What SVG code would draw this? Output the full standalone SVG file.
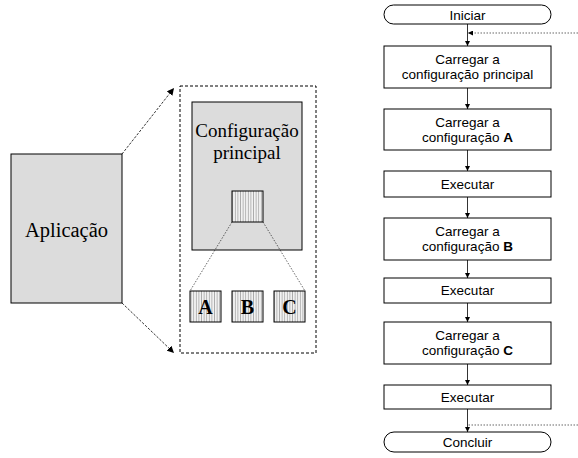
<svg xmlns="http://www.w3.org/2000/svg" width="578" height="458" viewBox="0 0 578 458">
<style>
.gray{fill:#dcdcdc;stroke:#000;stroke-width:1}
.hatch{fill:url(#vh);stroke:#000;stroke-width:1}
.serif{font-family:"Liberation Serif","Times New Roman",serif;fill:#000}
.sans{font-family:"Liberation Sans",Arial,sans-serif;font-size:13.5px;fill:#000;text-anchor:middle}
.box{fill:#fff;stroke:#000;stroke-width:1}
.flow{stroke:#000;stroke-width:0.8;fill:none}
.frame{stroke:#000;stroke-width:1;fill:none;stroke-dasharray:3,2}
.dash{stroke:#000;stroke-width:0.8;fill:none;stroke-dasharray:2.5,1.5}
.dot{stroke:#000;stroke-width:0.6;fill:none;stroke-dasharray:1.5,1.5}
</style>
<defs>
<pattern id="vh" width="2.6" height="4" patternUnits="userSpaceOnUse">
<rect width="2.6" height="4" fill="#f2f2f2"/>
<line x1="1.3" y1="0" x2="1.3" y2="4" stroke="#a0a0a0" stroke-width="0.8"/>
</pattern>
<marker id="big" viewBox="0 0 10 10" refX="10" refY="5" markerWidth="7" markerHeight="7" orient="auto" markerUnits="userSpaceOnUse">
<path d="M0,0 L10,5 L0,10 z" fill="#000"/>
</marker>
<marker id="sm" viewBox="0 0 10 10" refX="10" refY="5" markerWidth="5" markerHeight="5" orient="auto" markerUnits="userSpaceOnUse">
<path d="M0,0 L10,5 L0,10 z" fill="#000"/>
</marker>
</defs>

<g id="aplicacao">
<rect class="gray" x="11" y="154" width="111" height="149"/>
<text class="serif" x="66.5" y="237" font-size="20.5" text-anchor="middle">Aplicação</text>
</g>

<g id="zoom-frame">
<rect class="frame" x="180" y="86" width="136" height="267"/>
</g>

<g id="config-principal">
<rect class="gray" x="192" y="102" width="110" height="148"/>
<text class="serif" x="247" y="137" font-size="19" text-anchor="middle">Configuração</text>
<text class="serif" x="247" y="159" font-size="19" text-anchor="middle">principal</text>
</g>

<g id="slot">
<rect class="hatch" x="232" y="191" width="31" height="31"/>
</g>

<g id="cfgA">
<rect class="hatch" x="190" y="291" width="31" height="31"/>
<text class="serif" x="205.5" y="314" font-size="20" font-weight="bold" text-anchor="middle">A</text>
</g>
<g id="cfgB">
<rect class="hatch" x="232" y="291" width="31" height="31"/>
<text class="serif" x="247.5" y="314" font-size="20" font-weight="bold" text-anchor="middle">B</text>
</g>
<g id="cfgC">
<rect class="hatch" x="274" y="291" width="31" height="31"/>
<text class="serif" x="289.5" y="314" font-size="20" font-weight="bold" text-anchor="middle">C</text>
</g>

<g id="iniciar">
<rect class="box" x="384" y="5" width="167" height="19" rx="9.5" ry="9.5"/>
<text class="sans" x="467.5" y="19.5">Iniciar</text>
</g>
<g id="carregar-principal">
<rect class="box" x="384" y="46" width="167" height="42"/>
<text class="sans" x="467.5" y="64">Carregar a</text>
<text class="sans" x="467.5" y="79">configuração principal</text>
</g>
<g id="carregar-A">
<rect class="box" x="384" y="109" width="167" height="41"/>
<text class="sans" x="467.5" y="127">Carregar a</text>
<text class="sans" x="467.5" y="142">configuração <tspan font-weight="bold">A</tspan></text>
</g>
<g id="executar-1">
<rect class="box" x="384" y="171" width="167" height="26"/>
<text class="sans" x="467.5" y="188.5">Executar</text>
</g>
<g id="carregar-B">
<rect class="box" x="384" y="218" width="167" height="42"/>
<text class="sans" x="467.5" y="236">Carregar a</text>
<text class="sans" x="467.5" y="251">configuração <tspan font-weight="bold">B</tspan></text>
</g>
<g id="executar-2">
<rect class="box" x="384" y="278" width="167" height="25"/>
<text class="sans" x="467.5" y="295">Executar</text>
</g>
<g id="carregar-C">
<rect class="box" x="384" y="322" width="167" height="42"/>
<text class="sans" x="467.5" y="340">Carregar a</text>
<text class="sans" x="467.5" y="355">configuração <tspan font-weight="bold">C</tspan></text>
</g>
<g id="executar-3">
<rect class="box" x="384" y="385" width="167" height="24"/>
<text class="sans" x="467.5" y="401.5">Executar</text>
</g>
<g id="concluir">
<rect class="box" x="384" y="432" width="167" height="20" rx="10" ry="10"/>
<text class="sans" x="467.5" y="447">Concluir</text>
</g>

<g id="connectors">
<line class="dash" x1="122" y1="154" x2="174" y2="88" marker-end="url(#big)"/>
<line class="dash" x1="122" y1="303" x2="174" y2="353" marker-end="url(#big)"/>
<line class="dot" x1="232" y1="222" x2="190" y2="291"/>
<line class="dot" x1="263" y1="222" x2="305" y2="291"/>

<line class="flow" x1="467.5" y1="24" x2="467.5" y2="46" marker-end="url(#sm)"/>
<line class="flow" x1="467.5" y1="88" x2="467.5" y2="109" marker-end="url(#sm)"/>
<line class="flow" x1="467.5" y1="150" x2="467.5" y2="171" marker-end="url(#sm)"/>
<line class="flow" x1="467.5" y1="197" x2="467.5" y2="218" marker-end="url(#sm)"/>
<line class="flow" x1="467.5" y1="260" x2="467.5" y2="278" marker-end="url(#sm)"/>
<line class="flow" x1="467.5" y1="303" x2="467.5" y2="322" marker-end="url(#sm)"/>
<line class="flow" x1="467.5" y1="364" x2="467.5" y2="385" marker-end="url(#sm)"/>
<line class="flow" x1="467.5" y1="409" x2="467.5" y2="432" marker-end="url(#sm)"/>
<line class="dot" x1="578" y1="33" x2="468" y2="33" marker-end="url(#sm)"/>
<line class="dot" x1="578" y1="425" x2="468" y2="425"/>
</g>
</svg>
